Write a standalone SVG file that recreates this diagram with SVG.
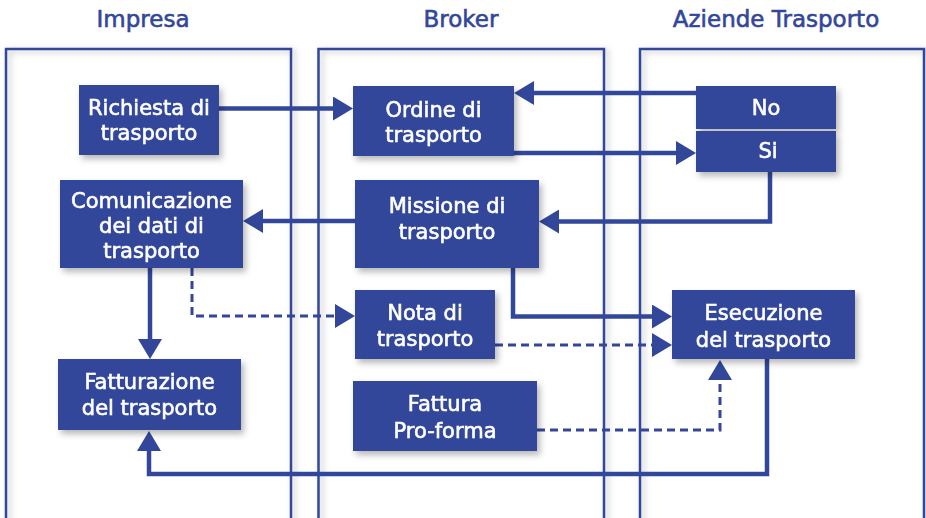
<svg xmlns="http://www.w3.org/2000/svg" width="926" height="518" viewBox="0 0 926 518">
<style>
.lane{fill:none;stroke:#33479a;stroke-width:2.5}
.title{font-family:"DejaVu Sans",sans-serif;font-size:23px;fill:#33479a;stroke:#33479a;stroke-width:0.6;text-anchor:middle}
.node rect{fill:#33479a}
.node text{font-family:"DejaVu Sans",sans-serif;font-size:21px;fill:#ffffff;stroke:#ffffff;stroke-width:0.6;text-anchor:middle}
.c{fill:none;stroke:#33479a;stroke-width:4.5}
.d{fill:none;stroke:#33479a;stroke-width:3;stroke-dasharray:8 5}
</style>
<defs>
<filter id="sh" x="-20%" y="-20%" width="150%" height="160%">
<feDropShadow dx="3" dy="4" stdDeviation="3" flood-color="#000" flood-opacity="0.28"/>
</filter>
<filter id="lsh" x="-10%" y="-10%" width="120%" height="120%">
<feDropShadow dx="3" dy="2" stdDeviation="3" flood-color="#000" flood-opacity="0.25"/>
</filter>
<marker id="ah" viewBox="0 0 20 24" markerWidth="20" markerHeight="24" markerUnits="userSpaceOnUse" refX="2" refY="12" orient="auto">
<path d="M0,0 L20,12 L0,24 z" fill="#33479a"/>
</marker>
</defs>
<rect width="926" height="518" fill="#ffffff"/>
<g id="lanes" filter="url(#lsh)">
<rect class="lane" x="6" y="49" width="285" height="490"/>
<rect class="lane" x="318.5" y="49" width="285.5" height="490"/>
<rect class="lane" x="640" y="49" width="284" height="490"/>
</g>
<g id="titles">
<text class="title" x="143" y="27">Impresa</text>
<text class="title" x="461" y="27">Broker</text>
<text class="title" x="776" y="27">Aziende Trasporto</text>
</g>
<g id="connectors">
<path class="c" d="M219,108.5 H335" marker-end="url(#ah)"/>
<path class="c" d="M696,93 H532" marker-end="url(#ah)"/>
<path class="c" d="M514,153 H678" marker-end="url(#ah)"/>
<path class="c" d="M770,172 V221.5 H557" marker-end="url(#ah)"/>
<path class="c" d="M355,221 H261" marker-end="url(#ah)"/>
<path class="c" d="M150,268 V341" marker-end="url(#ah)"/>
<path class="d" d="M192,268 V316 H337" marker-end="url(#ah)"/>
<path class="c" d="M513,268 V316.5 H654" marker-end="url(#ah)"/>
<path class="d" d="M495,345 H654" marker-end="url(#ah)"/>
<path class="d" d="M537,430 H720 V378" marker-end="url(#ah)"/>
<path class="c" d="M767,359 V474 H149 V449" marker-end="url(#ah)"/>
</g>
<g id="richiesta" class="node" filter="url(#sh)">
<rect x="79" y="85" width="140" height="70"/>
<text x="149" y="115">Richiesta di</text>
<text x="149" y="140">trasporto</text>
</g>
<g id="ordine" class="node" filter="url(#sh)">
<rect x="353" y="86" width="161" height="70"/>
<text x="433.5" y="117">Ordine di</text>
<text x="433.5" y="142">trasporto</text>
</g>
<g id="no" class="node" filter="url(#sh)">
<rect x="696" y="86" width="140" height="43"/>
<text x="766" y="115">No</text>
</g>
<g id="si" class="node" filter="url(#sh)">
<rect x="696" y="131" width="140" height="41"/>
<text x="768" y="158">Si</text>
</g>
<g id="comunicazione" class="node" filter="url(#sh)">
<rect x="60" y="180" width="183" height="88"/>
<text x="151.5" y="208">Comunicazione</text>
<text x="151.5" y="233">dei dati di</text>
<text x="151.5" y="258">trasporto</text>
</g>
<g id="missione" class="node" filter="url(#sh)">
<rect x="355" y="180" width="184" height="88"/>
<text x="447" y="213">Missione di</text>
<text x="447" y="239">trasporto</text>
</g>
<g id="nota" class="node" filter="url(#sh)">
<rect x="355" y="290" width="140" height="69"/>
<text x="425" y="320">Nota di</text>
<text x="425" y="346">trasporto</text>
</g>
<g id="esecuzione" class="node" filter="url(#sh)">
<rect x="672" y="290" width="183" height="69"/>
<text x="763.5" y="320">Esecuzione</text>
<text x="763.5" y="347">del trasporto</text>
</g>
<g id="fatturazione" class="node" filter="url(#sh)">
<rect x="58" y="359" width="183" height="71"/>
<text x="149.5" y="389">Fatturazione</text>
<text x="149.5" y="415">del trasporto</text>
</g>
<g id="fattura" class="node" filter="url(#sh)">
<rect x="353" y="381" width="184" height="70"/>
<text x="445" y="411">Fattura</text>
<text x="445" y="438">Pro-forma</text>
</g>
</svg>
